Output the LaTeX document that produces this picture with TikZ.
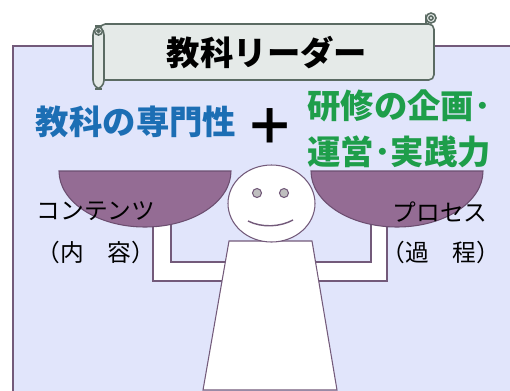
\documentclass[tikz,border=0pt]{standalone}
\usepackage{fontspec}
\setmainfont{Noto Sans CJK JP}
\definecolor{waku}{HTML}{E1E5FB}
\definecolor{wakusen}{HTML}{735A7A}
\definecolor{sara}{HTML}{946C94}
\definecolor{sarasen}{HTML}{6C4E70}
\definecolor{maki}{HTML}{E5EAE8}
\definecolor{makisen}{HTML}{5B6B63}
\definecolor{ao}{HTML}{1C6EB4}
\definecolor{midori}{HTML}{1E9E4A}
\tikzset{
  sara/.style={fill=sara, draw=sarasen, line width=0.6pt},
  hito/.style={fill=white, draw=wakusen, line width=0.6pt},
  makimono/.style={fill=maki, draw=makisen, line width=0.9pt},
  futoji/.style={font=\bfseries\fontsize{19}{19}\selectfont, inner sep=0pt},
  hosoji/.style={font=\fontsize{13.5}{14}\selectfont, inner sep=0pt}
}
\begin{document}
\begin{tikzpicture}[x=0.02cm, y=-0.02cm]
    \useasboundingbox (0,0) rectangle (510,390);
    \def\rx{86}
    \def\ry{56}

% waku
    \fill[white] (0,0) rectangle (510,390);
    \draw[fill=waku, draw=wakusen, line width=1.2pt] (13,46) rectangle (530,410);

% makimono
    \draw[makimono, rounded corners=3pt] (100,24) -- (434,24) -- (434,80) -- (100,80) -- cycle;
    \draw[makimono] (426,24) -- (426,18) arc[start angle=180, end angle=-180, radius=5];
    \draw[makimono] (431,18) circle[radius=2];
    \draw[makimono, rounded corners=5pt] (93,26) rectangle (104,89);
    \draw[makimono] (98.5,31) circle[radius=4];
    \draw[makimono] (98.5,31) circle[radius=1.5];
    \node[futoji] (title) at (267,53) {教科リーダー};

% mojiretsu
    \node[futoji, text=ao] (senmon) at (136,122) {教科の専門性};
    \node[font=\bfseries\fontsize{28}{28}\selectfont, inner sep=0pt] (plus) at (270,127) {＋};
    \node[futoji, text=midori, anchor=west] (kenshu) at (307,106) {研修の企画･};
    \node[futoji, text=midori, anchor=west] (unei) at (307,152) {運営･実践力};

% ude
    \draw[hito] (153,220) -- (153,281) -- (240,281) -- (240,262) -- (171,262) -- (171,220);
    \draw[hito] (387,220) -- (387,281) -- (300,281) -- (300,262) -- (371,262) -- (371,220);

% sara
    \draw[sara] (59,171) arc[start angle=180, end angle=0, x radius=\rx, y radius=\ry] -- cycle;
    \draw[sara] (311,171) arc[start angle=180, end angle=0, x radius=\rx, y radius=\ry] -- cycle;

% karada
    \draw[hito] (229,241) -- (312,241) -- (337,390) -- (203,390) -- cycle;
    \draw[hito] (271.5,203.5) ellipse[x radius=43.5, y radius=38.5];
    \draw[fill=gray!50, draw=wakusen, line width=0.6pt] (257,193) circle[radius=4.5];
    \draw[fill=gray!50, draw=wakusen, line width=0.6pt] (284,193) circle[radius=4.5];
    \draw[wakusen, line width=0.8pt] (248,221) .. controls (262,228) and (280,227) .. (293,220);

    \node[hosoji] (naiyou1) at (96,211) {コンテンツ};
    \node[hosoji] (naiyou2) at (96,252) {（内　容）};
    \node[hosoji] (katei1) at (440,212) {プロセス};
    \node[hosoji] (katei2) at (441,252) {（過　程）};
\end{tikzpicture}
\end{document}
